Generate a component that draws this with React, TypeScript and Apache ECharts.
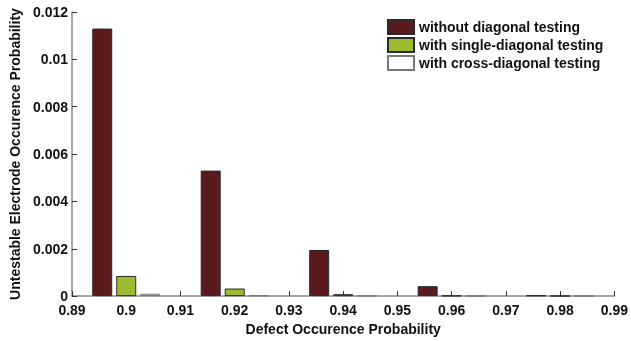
import React, { useEffect, useRef } from "react";
import * as echarts from "echarts";

const groupPositions = [0.9, 0.92, 0.94, 0.96, 0.98];
const withoutDiagonal = [0.0113, 0.0053, 0.00195, 0.00042, 0.00003];
const singleDiagonal = [0.00085, 0.00032, 0.00008, 0.00002, 0.00001];
const crossDiagonal = [0.0001, 0.00003, 0.00002, 0.00001, 0.000005];
const seriesNames = [
  "without diagonal testing",
  "with single-diagonal testing",
  "with cross-diagonal testing",
];
const seriesColors = ["#5b1a1d", "#9cbb2e", "#ffffff"];
const borderColors = ["#2a2a2a", "#2a2a2a", "#777777"];

const yLabel = (v: number) => {
  if (v === 0) return "0";
  return String(parseFloat(v.toFixed(3)));
};
const xLabel = (v: number) => String(parseFloat(v.toFixed(2)));

export default function App() {
  const ref = useRef<HTMLDivElement>(null);
  useEffect(() => {
    if (!ref.current) return;
    const chart = echarts.init(ref.current, null, { renderer: "svg" });
    const font = "Liberation Sans, Arial, sans-serif";
    const all = [withoutDiagonal, singleDiagonal, crossDiagonal];
    chart.setOption({
      animation: false,
      textStyle: { fontFamily: font },
      grid: { left: 67, right: 14, top: 12, bottom: 40 },
      legend: {
        orient: "vertical",
        left: 387,
        top: 19,
        padding: 0,
        itemWidth: 26,
        itemHeight: 14,
        itemGap: 2,
        icon: "rect",
        textStyle: { fontFamily: font, fontSize: 14, fontWeight: "bold", color: "#111" },
        data: seriesNames,
      },
      xAxis: {
        type: "value",
        min: 0.89,
        max: 0.99,
        interval: 0.01,
        name: "Defect Occurence Probability",
        nameLocation: "middle",
        nameGap: 22,
        nameTextStyle: { fontFamily: font, fontSize: 14, fontWeight: "bold", color: "#111" },
        axisLine: { show: true, lineStyle: { color: "#8a8a8a", width: 1.5 } },
        axisTick: { show: true, inside: true, length: 5, lineStyle: { color: "#333" } },
        axisLabel: { fontFamily: font, fontSize: 14, fontWeight: "bold", color: "#111", margin: 7, formatter: xLabel },
        splitLine: { show: false },
      },
      yAxis: {
        type: "value",
        min: 0,
        max: 0.012,
        interval: 0.002,
        name: "Untestable Electrode Occurence Probability",
        nameLocation: "middle",
        nameGap: 50,
        nameTextStyle: { fontFamily: font, fontSize: 14, fontWeight: "bold", color: "#111" },
        axisLine: { show: true, lineStyle: { color: "#8a8a8a", width: 1.5 } },
        axisTick: { show: true, inside: true, length: 5, lineStyle: { color: "#333" } },
        axisLabel: { fontFamily: font, fontSize: 14, fontWeight: "bold", color: "#111", margin: 4, formatter: yLabel },
        splitLine: { show: false },
      },
      series: seriesNames.map((name, i) => ({
        name,
        type: "bar",
        barWidth: 20,
        barGap: "20%",
        data: groupPositions.map((x, j) => [x, all[i][j]]),
        itemStyle: { color: seriesColors[i], borderColor: borderColors[i], borderWidth: 1 },
      })),
    });
    return () => chart.dispose();
  }, []);
  return <div ref={ref} style={{ position: "fixed", left: 0, top: 0, width: 631, height: 341 }} />;
}
